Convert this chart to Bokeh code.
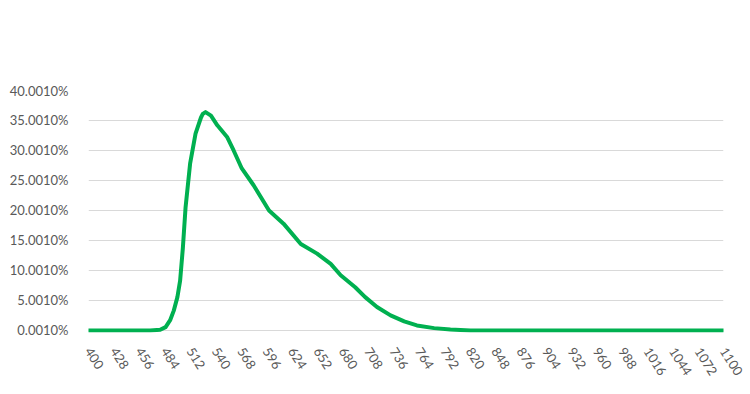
from bokeh.plotting import figure
from bokeh.models import FixedTicker, Range1d
from bokeh.embed import file_html
from bokeh.resources import INLINE

# Data (x values, y values in percent)
xs = [400, 440, 468, 479, 485, 490, 494, 498, 501, 504, 507, 512, 518, 524, 526,
      529, 535, 542, 553, 560, 569, 582, 599, 615, 634, 652, 667, 678, 694, 705,
      718, 733, 748, 762, 781, 799, 821, 850, 900, 1000, 1100]
ys = [0.001, 0.001, 0.001, 0.1, 0.55, 1.7, 3.3, 5.55, 8.3, 13.7, 20.5, 27.8, 32.8,
      35.5, 36.1, 36.4, 35.8, 34.2, 32.2, 30.0, 27.0, 24.2, 20.0, 17.8, 14.4, 12.8,
      11.1, 9.2, 7.2, 5.55, 3.9, 2.5, 1.5, 0.83, 0.38, 0.17, 0.001, 0.001, 0.001,
      0.001, 0.001]

x_ticks = list(range(400, 1101, 28))
y_ticks = [0.001, 5.001, 10.001, 15.001, 20.001, 25.001, 30.001, 35.001, 40.001]
y_labels = ["0.0010%", "5.0010%", "10.0010%", "15.0010%", "20.0010%",
            "25.0010%", "30.0010%", "35.0010%", "40.0010%"]

p = figure(width=750, height=394, output_backend="svg", toolbar_location=None,
           x_range=Range1d(400, 1100), y_range=Range1d(-0.35, 40.001))
p.min_border_left = 88
p.min_border_right = 27
p.min_border_top = 90
p.min_border_bottom = 62
p.outline_line_color = None
p.background_fill_color = "white"
p.border_fill_color = "white"

p.line(xs, ys, line_color="#00b050", line_width=4, line_join="round", line_cap="round")

p.xaxis.ticker = FixedTicker(ticks=x_ticks)
p.yaxis.ticker = FixedTicker(ticks=y_ticks)
p.yaxis.major_label_overrides = {t: l for t, l in zip(y_ticks, y_labels)}

for ax in (p.xaxis, p.yaxis):
    ax.axis_line_color = None
    ax.major_tick_line_color = None
    ax.minor_tick_line_color = None
    ax.major_label_text_color = "#595959"
    ax.major_label_text_font = "Lato"
    ax.major_label_text_font_size = "13px"

p.yaxis.major_label_standoff = 14
p.xaxis.major_label_standoff = 10
p.xaxis.major_label_orientation = -1.0

p.xgrid.grid_line_color = None
p.ygrid.grid_line_color = "#d9d9d9"
p.ygrid.grid_line_width = 1
p.ygrid.ticker = FixedTicker(ticks=y_ticks)

open("out.html", "w").write(file_html(p, INLINE))
